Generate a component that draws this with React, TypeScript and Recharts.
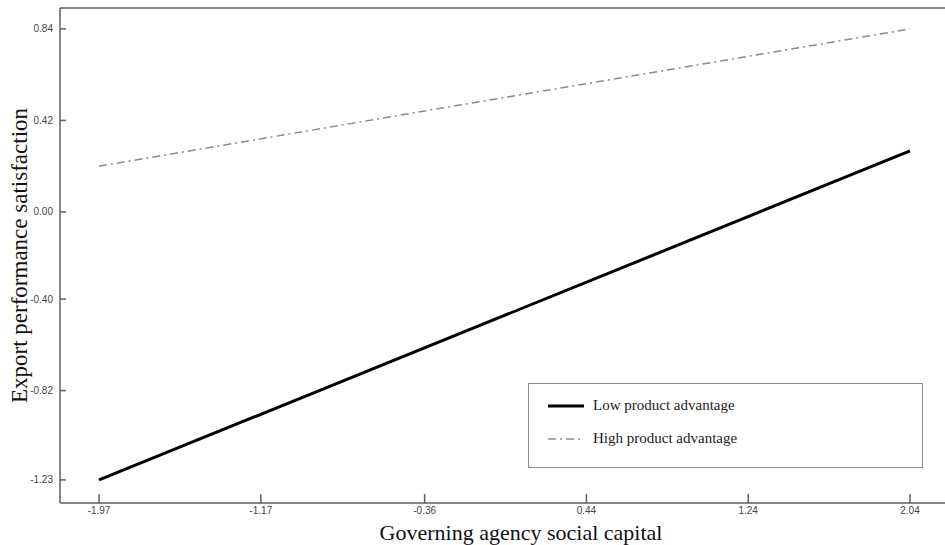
import { CartesianGrid, Legend, Line, LineChart, XAxis, YAxis } from "recharts";

const xValues = [-1.97, 2.04];
const lowAdvantage = [-1.23, 0.28];
const highAdvantage = [0.21, 0.84];

const xTicks = [-1.97, -1.17, -0.36, 0.44, 1.24, 2.04];
const yTicks = [-1.23, -0.82, -0.4, 0.0, 0.42, 0.84];

const seriesNames = ["Low product advantage", "High product advantage"];

const data = xValues.map((x, i) => ({ x, low: lowAdvantage[i], high: highAdvantage[i] }));

const axisColor = "#5f5f5f";
const tickFont = { fontFamily: "Liberation Sans, Arial, sans-serif", fontSize: 10, fill: "#444" };
const serif = "Liberation Serif, Times New Roman, serif";
const highDash = "8 4 2 4";
const xDomain = [-2.163, 2.218];

function LegendBox() {
  return (
    <div
      style={{
        boxSizing: "border-box",
        width: 395,
        height: 85,
        border: "1px solid #8a8a8a",
        background: "#fff",
        fontFamily: serif,
        fontSize: 15,
        color: "#222",
        padding: "5px 0 0 18px",
      }}
    >
      {seriesNames.map((name, i) => (
        <div key={name} style={{ display: "flex", alignItems: "center", height: 33 }}>
          <svg width={38} height={10} style={{ marginRight: 8 }}>
            <line
              x1={1}
              x2={37}
              y1={5}
              y2={5}
              stroke={i === 0 ? "#000" : "#8a8a8a"}
              strokeWidth={i === 0 ? 3 : 1.5}
              strokeDasharray={i === 0 ? undefined : highDash}
            />
          </svg>
          <span>{name}</span>
        </div>
      ))}
    </div>
  );
}

export default function App() {
  return (
    <div style={{ position: "absolute", left: 0, top: 0, width: 945, height: 545, overflow: "hidden", background: "#fff" }}>
      <LineChart width={949} height={545} data={data} margin={{ top: 7, right: 2, bottom: 0, left: 0 }}>
        <CartesianGrid stroke="none" />
        <XAxis
          dataKey="x"
          type="number"
          domain={xDomain}
          allowDataOverflow
          ticks={xTicks}
          interval={0}
          tickFormatter={(v: number) => v.toFixed(2)}
          height={42}
          tickSize={-9}
          tickMargin={13}
          tick={tickFont}
          axisLine={{ stroke: axisColor, strokeWidth: 1.5 }}
          tickLine={{ stroke: axisColor, strokeWidth: 1.5 }}
          label={{
            content: () => (
              <text x={521} y={540} textAnchor="middle" fontFamily={serif} fontSize={22} fill="#111">
                Governing agency social capital
              </text>
            ),
          }}
        />
        <XAxis
          xAxisId="top"
          orientation="top"
          type="number"
          domain={xDomain}
          allowDataOverflow
          ticks={xTicks}
          interval={0}
          height={1}
          tickSize={-8}
          tick={false}
          axisLine={{ stroke: axisColor, strokeWidth: 1.5 }}
          tickLine={{ stroke: axisColor, strokeWidth: 1.5 }}
        />
        <YAxis
          type="number"
          domain={[-1.336, 0.936]}
          allowDataOverflow
          ticks={yTicks}
          interval={0}
          tickFormatter={(v: number) => v.toFixed(2)}
          width={60}
          tickSize={-6}
          tickMargin={13}
          tick={tickFont}
          axisLine={{ stroke: axisColor, strokeWidth: 1.5 }}
          tickLine={{ stroke: axisColor, strokeWidth: 1.5 }}
          label={{
            content: ({ viewBox }: any) => (
              <text
                transform={`translate(27, ${viewBox.y + viewBox.height / 2}) rotate(-90)`}
                textAnchor="middle"
                fontFamily={serif}
                fontSize={23}
                fill="#111"
              >
                Export performance satisfaction
              </text>
            ),
          }}
        />
        <YAxis
          yAxisId="right"
          orientation="right"
          type="number"
          domain={[-1.336, 0.936]}
          allowDataOverflow
          ticks={yTicks}
          interval={0}
          width={1}
          tickSize={-6}
          tick={false}
          axisLine={false}
          tickLine={{ stroke: axisColor, strokeWidth: 1.5 }}
        />
        <Line
          dataKey="high"
          name={seriesNames[1]}
          type="linear"
          stroke="#8a8a8a"
          strokeWidth={1.5}
          strokeDasharray={highDash}
          dot={false}
          activeDot={false}
          isAnimationActive={false}
        />
        <Line
          dataKey="low"
          name={seriesNames[0]}
          type="linear"
          stroke="#000"
          strokeWidth={3}
          dot={false}
          activeDot={false}
          isAnimationActive={false}
        />
        <Legend
          layout="vertical"
          verticalAlign="middle"
          align="center"
          content={() => <LegendBox />}
          wrapperStyle={{ left: 528, top: 383, width: 395, height: 85 }}
        />
      </LineChart>
    </div>
  );
}
